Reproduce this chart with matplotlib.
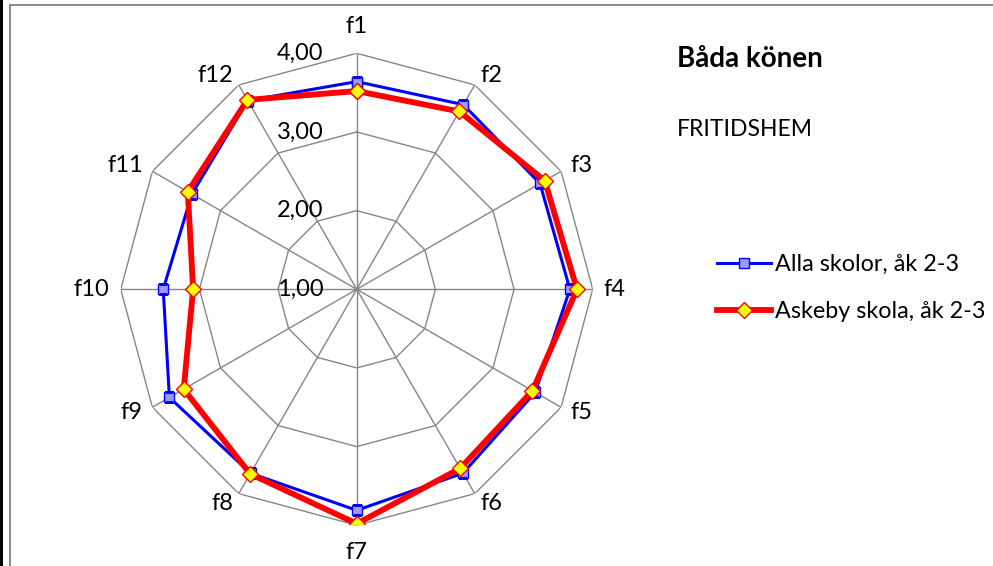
# Radar chart - FRITIDSHEM, båda könen

import numpy as np
import matplotlib.pyplot as plt
from matplotlib.lines import Line2D
from matplotlib.patches import Rectangle

plt.rcParams['font.family'] = ['Lato', 'DejaVu Sans']

categories = ['f1', 'f2', 'f3', 'f4', 'f5', 'f6', 'f7', 'f8', 'f9', 'f10', 'f11', 'f12']
alla = [3.64, 3.71, 3.69, 3.71, 3.62, 3.70, 3.81, 3.70, 3.75, 3.46, 3.42, 3.77]
askeby = [3.52, 3.61, 3.76, 3.80, 3.58, 3.63, 3.98, 3.71, 3.54, 3.08, 3.48, 3.78]
ring_values = [1, 2, 3, 4]
ring_labels = ['1,00', '2,00', '3,00', '4,00']

grid_color = '#868686'

fig = plt.figure(figsize=(9.93, 5.66), dpi=100)
ax = fig.add_axes([0.1216, 0.0719, 0.4753, 0.834], projection='polar')
ax.set_theta_zero_location('N')
ax.set_theta_direction(-1)
ax.set_ylim(1, 4)
ax.grid(False)
ax.spines['polar'].set_visible(False)
ax.set_xticks([])
ax.set_yticks([])
ax.patch.set_visible(False)

n = len(categories)
theta = np.arange(n) * 2 * np.pi / n
theta_closed = np.append(theta, theta[0])

# polygon gridlines and spokes
for v in ring_values[1:]:
    ax.plot(theta_closed, [v] * (n + 1), color=grid_color, lw=1.0, zorder=1)
for t in theta:
    ax.plot([t, t], [1, 4], color=grid_color, lw=1.0, zorder=1)

ax.plot(theta_closed, alla + alla[:1], color='#0000FF', lw=2.2, marker='s',
        ms=7, mfc='#9999FF', mec='#0000FF', mew=1.0, zorder=3,
        label='Alla skolor, åk 2-3')
ax.plot(theta_closed, askeby + askeby[:1], color='#FF0000', lw=4.2, marker='D',
        ms=8, mfc='#FFFF00', mec='#FF0000', mew=1.0, zorder=4,
        label='Askeby skola, åk 2-3')

# category labels placed beside the outer vertices (Excel style)
for t, c in zip(theta, categories):
    s, co = np.sin(t), np.cos(t)
    if abs(s) < 0.1:
        off, ha = (0, 27 * co), 'center'
    else:
        off, ha = (11 * s, 11 * co), ('left' if s > 0 else 'right')
    ax.annotate(c, xy=(t, 4), xytext=off, textcoords='offset pixels',
                ha=ha, va='center', fontsize=17, color='black')

for v, lbl in zip(ring_values, ring_labels):
    ax.annotate(lbl, xy=(0, v), xytext=(-24, 0), textcoords='offset points',
                ha='right', va='center', fontsize=17, color='black')

fig.text(677 / 993, 1 - 59 / 566, 'Båda könen', fontsize=20, fontweight='bold',
         ha='left', va='center')
fig.text(677 / 993, 1 - 129 / 566, 'FRITIDSHEM', fontsize=16.5, ha='left', va='center')

fig.legend(loc='center left', bbox_to_anchor=(717 / 993, 1 - 288 / 566),
           frameon=False, fontsize=16.8, handlelength=2.3, handletextpad=0.2,
           labelspacing=1.1, borderaxespad=0, borderpad=0)

# chart frame
fig.add_artist(Rectangle((0, 0), 3 / 993, 1, transform=fig.transFigure,
                         color='black', lw=0))
fig.add_artist(Line2D([10 / 993, 10 / 993], [0, 1 - 5 / 566],
                      transform=fig.transFigure, color='#8c8c8c', lw=1.5))
fig.add_artist(Line2D([10 / 993, 1], [1 - 5 / 566, 1 - 5 / 566],
                      transform=fig.transFigure, color='#8c8c8c', lw=1.5))

fig.savefig('out.png', dpi=100)
